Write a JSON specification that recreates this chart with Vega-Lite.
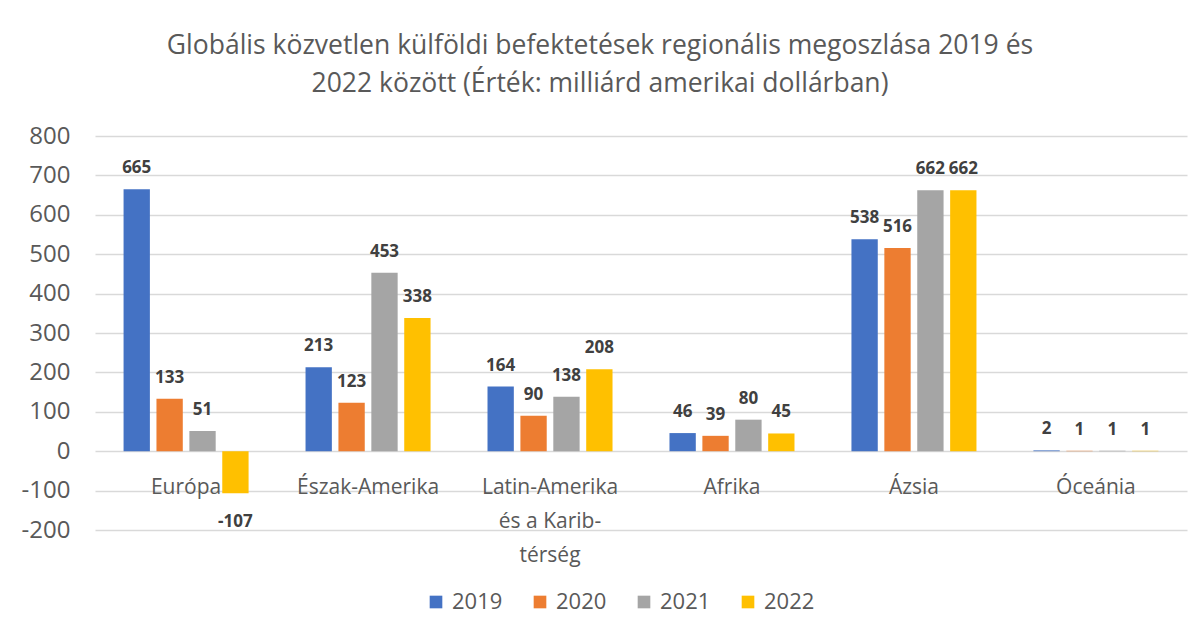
{
  "$schema": "https://vega.github.io/schema/vega-lite/v6.json",
  "autosize": {"type": "none"},
  "width": 1092,
  "height": 394,
  "padding": {"left": 95, "top": 136, "right": 17, "bottom": 104},
  "background": "white",
  "title": {
    "text": ["Globális közvetlen külföldi befektetések regionális megoszlása 2019 és", "2022 között (Érték: milliárd amerikai dollárban)"],
    "font": "Open Sans",
    "fontSize": 26.5,
    "fontWeight": "normal",
    "color": "#595959",
    "lineHeight": 38,
    "anchor": "middle",
    "dx": -41,
    "offset": 27
  },
  "data": {
    "values": [
      {"region": "Európa", "year": "2019", "value": 665},
      {"region": "Európa", "year": "2020", "value": 133},
      {"region": "Európa", "year": "2021", "value": 51},
      {"region": "Európa", "year": "2022", "value": -107},
      {"region": "Észak-Amerika", "year": "2019", "value": 213},
      {"region": "Észak-Amerika", "year": "2020", "value": 123},
      {"region": "Észak-Amerika", "year": "2021", "value": 453},
      {"region": "Észak-Amerika", "year": "2022", "value": 338},
      {"region": "Latin-Amerika és a Karib-térség", "year": "2019", "value": 164},
      {"region": "Latin-Amerika és a Karib-térség", "year": "2020", "value": 90},
      {"region": "Latin-Amerika és a Karib-térség", "year": "2021", "value": 138},
      {"region": "Latin-Amerika és a Karib-térség", "year": "2022", "value": 208},
      {"region": "Afrika", "year": "2019", "value": 46},
      {"region": "Afrika", "year": "2020", "value": 39},
      {"region": "Afrika", "year": "2021", "value": 80},
      {"region": "Afrika", "year": "2022", "value": 45},
      {"region": "Ázsia", "year": "2019", "value": 538},
      {"region": "Ázsia", "year": "2020", "value": 516},
      {"region": "Ázsia", "year": "2021", "value": 662},
      {"region": "Ázsia", "year": "2022", "value": 662},
      {"region": "Óceánia", "year": "2019", "value": 2},
      {"region": "Óceánia", "year": "2020", "value": 1},
      {"region": "Óceánia", "year": "2021", "value": 1},
      {"region": "Óceánia", "year": "2022", "value": 1}
    ]
  },
  "encoding": {
    "x": {
      "field": "region",
      "type": "nominal",
      "sort": null,
      "title": null,
      "scale": {"paddingInner": 0.313, "paddingOuter": 0.157},
      "axis": {
        "orient": "bottom",
        "offset": -79,
        "domain": false,
        "ticks": false,
        "labelAngle": 0,
        "labelFont": "Open Sans",
        "labelFontSize": 21,
        "labelColor": "#595959",
        "labelPadding": 36,
        "labelLineHeight": 34,
        "labelBaseline": "middle",
        "labelExpr": "datum.value == 'Latin-Amerika és a Karib-térség' ? ['Latin-Amerika', 'és a Karib-', 'térség'] : datum.value"
      }
    },
    "xOffset": {"field": "year", "type": "nominal", "scale": {"paddingInner": 0.2, "paddingOuter": 0}},
    "y": {
      "field": "value",
      "type": "quantitative",
      "title": null,
      "scale": {"domain": [-200, 800], "nice": false},
      "axis": {
        "values": [-200, -100, 0, 100, 200, 300, 400, 500, 600, 700, 800],
        "domain": false,
        "ticks": false,
        "labelFont": "Open Sans",
        "labelFontSize": 24,
        "labelColor": "#595959",
        "labelPadding": 25,
        "gridColor": "#d9d9d9",
        "gridWidth": 1.5
      }
    }
  },
  "layer": [
    {
      "mark": {"type": "bar"},
      "encoding": {
        "color": {
          "field": "year",
          "type": "nominal",
          "title": null,
          "scale": {"domain": ["2019", "2020", "2021", "2022"], "range": ["#4472C4", "#ED7D31", "#A5A5A5", "#FFC000"]},
          "legend": {
            "orient": "none",
            "legendX": 330,
            "legendY": 455,
            "direction": "horizontal",
            "symbolType": "square",
            "symbolSize": 160,
            "symbolStrokeWidth": 0,
            "labelFont": "Open Sans",
            "labelFontSize": 22,
            "labelColor": "#595959",
            "columnPadding": 26,
            "labelOffset": 5
          }
        }
      }
    },
    {
      "transform": [{"filter": "datum.value >= 0"}],
      "mark": {"type": "text", "baseline": "middle", "dy": -21, "font": "Open Sans", "fontWeight": "bold", "fontSize": 17, "color": "#404040"},
      "encoding": {"text": {"field": "value", "type": "quantitative"}}
    },
    {
      "transform": [{"filter": "datum.value < 0"}],
      "mark": {"type": "text", "baseline": "middle", "dy": 29, "font": "Open Sans", "fontWeight": "bold", "fontSize": 17, "color": "#404040"},
      "encoding": {"text": {"field": "value", "type": "quantitative"}}
    }
  ],
  "config": {
    "view": {"stroke": null},
    "locale": {"number": {"decimal": ".", "thousands": ",", "grouping": [3], "currency": ["$", ""], "minus": "-"}}
  }
}
